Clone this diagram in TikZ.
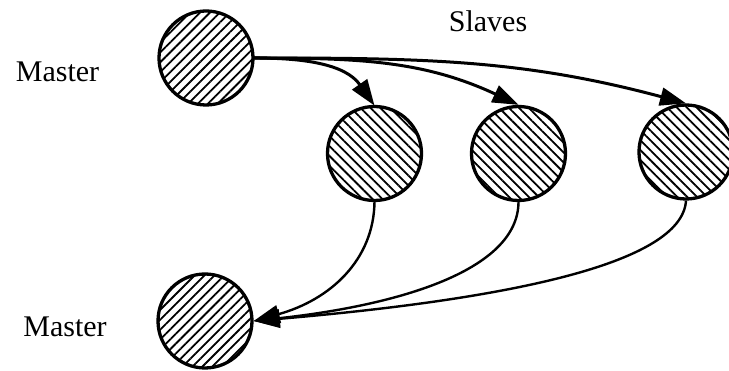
\documentclass[tikz,border=0pt]{standalone}
\usepackage{fontspec}
\setmainfont{Liberation Serif}
\usetikzlibrary{patterns.meta,arrows.meta}
\begin{document}
\begin{tikzpicture}[x=1pt,y=1pt,
  ball/.style={circle,draw,line width=3.3pt,minimum size=94pt,inner sep=0pt},
  mball/.style={ball,pattern={Lines[angle=45,distance=7pt,line width=1.8pt]}},
  sball/.style={ball,pattern={Lines[angle=-45,distance=7pt,line width=1.8pt]}},
  fwd/.style={line width=3pt,-{Triangle[length=26pt,width=18pt]}},
  back/.style={line width=2.4pt,-{Triangle[length=26pt,width=18pt]}},
  lbl/.style={font=\fontsize{30}{32}\selectfont,anchor=base}]
\useasboundingbox (0,0) rectangle (729,-371);
\node[mball] (m1) at (206,-58) {};
\node[sball] (s1) at (374.5,-153.5) {};
\node[sball] (s2) at (518.5,-153.5) {};
\node[sball] (s3) at (686,-152) {};
\node[mball] (m2) at (205,-321) {};
\node[lbl] (lm1) at (57.5,-82) {Master};
\node[lbl] (lm2) at (65,-337) {Master};
\node[lbl] (ls) at (488,-32) {Slaves};
\draw[fwd] (m1.east) to[out=0,in=125] (s1.north);
\draw[fwd] (m1.east) to[out=0,in=155] (s2.north);
\draw[fwd] (m1.east) to[out=0,in=165] (s3.north);
\draw[back] (s1.south) .. controls (374,-260) and (330,-300) .. (m2.east);
\draw[back] (s2.south) .. controls (518,-270) and (400,-305) .. (m2.east);
\draw[back] (s3.south) .. controls (682,-265) and (500,-300) .. (m2.east);
\end{tikzpicture}
\end{document}
